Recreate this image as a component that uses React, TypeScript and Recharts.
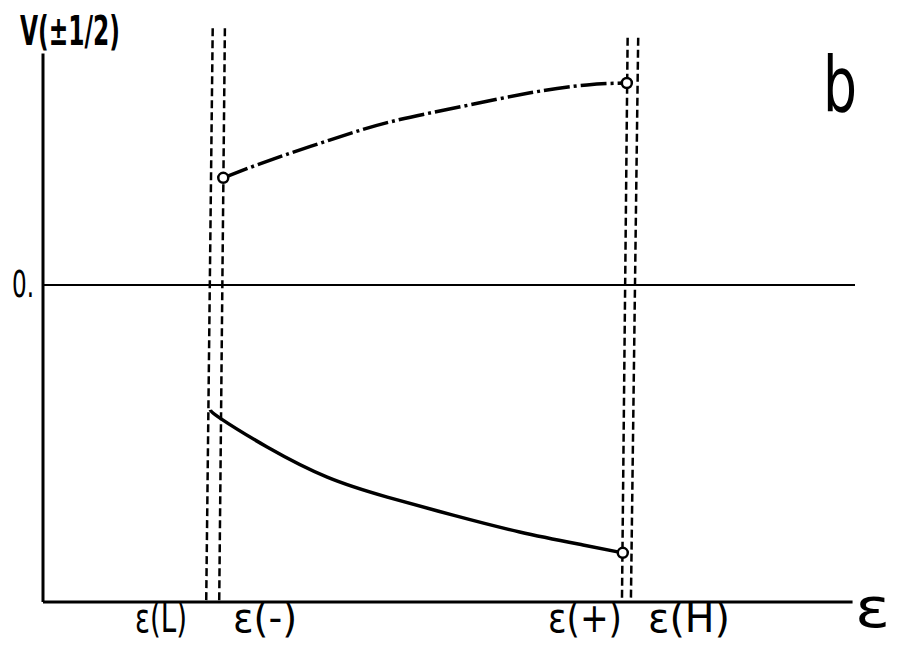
import {
  LineChart,
  Line,
  XAxis,
  YAxis,
  ReferenceLine,
} from 'recharts'

// energy (ε) vs V(±1/2)
const upperE = [2.22, 2.8, 3.53, 4.27, 5.14, 6.0, 6.7, 7.19]
const upperV = [0.338, 0.394, 0.457, 0.514, 0.562, 0.606, 0.631, 0.637]
const lowerE = [2.06, 2.18, 2.76, 3.5, 4.24, 5.05, 5.87, 6.65, 7.14]
const lowerV = [-0.394, -0.42, -0.511, -0.606, -0.669, -0.726, -0.779, -0.82, -0.845]

// the four dashed boundaries ε(L), ε(-), ε(+), ε(H) (slightly slanted)
const boundaryTopE = [2.09, 2.24, 7.2, 7.33]
const boundaryBottomE = [2.01, 2.17, 7.13, 7.24]
const boundaryTopV = [0.81, 0.81, 0.78, 0.78]

const xDomain = [0, 10]
const yDomain = [-1, 0.82]
const yAxisTop = 0.73

const upperData = upperE.map((e, i) => ({ e, v: upperV[i] }))
const lowerData = lowerE.map((e, i) => ({ e, v: lowerV[i] }))

const font = "'DejaVu Sans Condensed', 'Liberation Sans Narrow', 'DejaVu Sans', sans-serif"

const openDot = (last: number, first: boolean) => (props: any) => {
  const { cx, cy, index } = props
  if (index === last || (first && index === 0)) {
    return <circle key={index} cx={cx} cy={cy} r={5} fill="#fff" stroke="#000" strokeWidth={2.5} />
  }
  return <g key={index} />
}

const App = () => {
  return (
    <div style={{ position: 'relative', width: 898, height: 656, margin: '-8px 0 0 -8px', background: '#fff' }}>
      <LineChart width={898} height={656} margin={{ top: 25, right: 43, bottom: 54, left: 43 }}>
        <XAxis type="number" dataKey="e" domain={xDomain} hide allowDataOverflow />
        <YAxis type="number" dataKey="v" domain={yDomain} hide allowDataOverflow />
        {/* axes */}
        <ReferenceLine segment={[{ x: xDomain[0], y: yDomain[0] }, { x: xDomain[0], y: yAxisTop }]} stroke="#000" strokeWidth={3} />
        <ReferenceLine segment={[{ x: xDomain[0], y: yDomain[0] }, { x: 9.97, y: yDomain[0] }]} stroke="#000" strokeWidth={3} />
        <ReferenceLine segment={[{ x: xDomain[0], y: 0 }, { x: xDomain[1], y: 0 }]} stroke="#000" strokeWidth={2} />
        {boundaryTopE.map((e, i) => (
          <ReferenceLine
            key={i}
            segment={[{ x: e, y: boundaryTopV[i] }, { x: boundaryBottomE[i], y: yDomain[0] }]}
            stroke="#000"
            strokeWidth={2.5}
            strokeDasharray="8 4"
          />
        ))}
        <Line
          data={upperData}
          dataKey="v"
          type="natural"
          stroke="#000"
          strokeWidth={3.5}
          strokeDasharray="26 4 3 4"
          dot={openDot(upperData.length - 1, true)}
          isAnimationActive={false}
        />
        <Line
          data={lowerData}
          dataKey="v"
          type="natural"
          stroke="#000"
          strokeWidth={3.5}
          dot={openDot(lowerData.length - 1, false)}
          isAnimationActive={false}
        />
      </LineChart>
      <svg width={898} height={656} style={{ position: 'absolute', left: 0, top: 0, pointerEvents: 'none' }}>
        <g fontFamily={font} fill="#000">
          <text x={20} y={45} fontSize={40} fontWeight={600} textLength={100} lengthAdjust="spacingAndGlyphs">V(±1/2)</text>
          <text x={823} y={111} fontSize={76} textLength={34} lengthAdjust="spacingAndGlyphs">b</text>
          <text x={12} y={297} fontSize={37} textLength={22} lengthAdjust="spacingAndGlyphs">0.</text>
          <text x={135} y={632} fontSize={40} textLength={52} lengthAdjust="spacingAndGlyphs">ε(L)</text>
          <text x={233} y={632} fontSize={40} textLength={64} lengthAdjust="spacingAndGlyphs">ε(-)</text>
          <text x={548} y={632} fontSize={40} textLength={74} lengthAdjust="spacingAndGlyphs">ε(+)</text>
          <text x={648} y={632} fontSize={40} textLength={82} lengthAdjust="spacingAndGlyphs">ε(H)</text>
          <text x={855} y={627} fontSize={56} textLength={35} lengthAdjust="spacingAndGlyphs">ε</text>
        </g>
      </svg>
    </div>
  )
}

export default App
